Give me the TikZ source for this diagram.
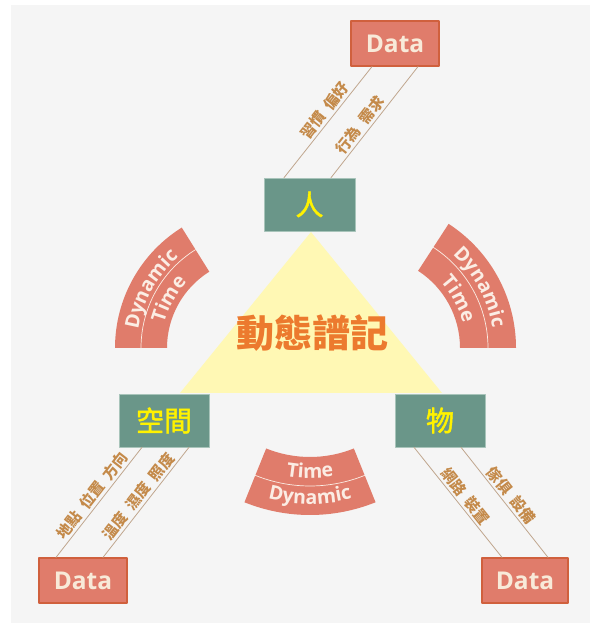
\documentclass[tikz,border=0pt]{standalone}
\usepackage{fontspec}
\setmainfont{Open Sans}
\newfontfamily\cjk{Noto Sans CJK TC}
\newfontfamily\cjkmid{Noto Sans CJK TC}[FakeBold=1.6]
\usepackage{tikz}
\usetikzlibrary{decorations.text}

\definecolor{bggray}{HTML}{F5F5F5}
\definecolor{salmon}{HTML}{E07C6B}
\definecolor{salmonedge}{HTML}{D0603D}
\definecolor{corefill}{HTML}{6A9689}
\definecolor{coreedge}{HTML}{A8C4BA}
\definecolor{coretext}{HTML}{FFF200}
\definecolor{trifill}{HTML}{FFF8B4}
\definecolor{titleorange}{HTML}{EC7A2E}
\definecolor{tagtan}{HTML}{C48A4A}
\definecolor{wiretan}{HTML}{C0A68E}
\definecolor{arctext}{HTML}{FBEDE4}
\definecolor{datatext}{HTML}{F8EAD9}

\begin{document}
\begin{tikzpicture}[x=1pt, y=1pt, line cap=round, line join=round,
    databox/.style={draw=salmonedge, line width=1.2pt, fill=salmon, minimum width=88pt, minimum height=45pt, inner sep=0pt, text=datatext, font=\fontsize{24.5}{24.5}\selectfont\bfseries},
    corebox/.style={draw=coreedge, line width=0.6pt, fill=corefill, minimum width=90pt, minimum height=53pt, inner sep=0pt, text=coretext, font=\cjkmid\fontsize{28}{28}\selectfont},
    wire/.style={draw=wiretan, line width=0.8pt},
    tag/.style={sloped, above, inner sep=2pt, text=tagtan, font=\cjk\fontsize{15}{15}\selectfont\bfseries},
    split/.style={draw=arctext, line width=0.7pt},
    curved/.style={decorate, decoration={text along path, text={|\fontsize{19.5}{19.5}\selectfont\bfseries|#1}, text align=center, text color=arctext}}]
        \useasboundingbox (0,0) rectangle (592,623);
        \fill[bggray] (11,0) rectangle (590,618);

        % centre triangle
        \fill[trifill] (311,391) -- (180,230) -- (442,230) -- cycle;
        \node[text=titleorange, font=\cjk\fontsize{38}{38}\selectfont\bfseries] (title) at (312,290) {動態譜記};

        % three core boxes
        \node[corebox, minimum width=91pt] (ren) at (309.5,418.5) {人};
        \node[corebox] (kongjian) at (164,202.5) {空間};
        \node[corebox] (wu) at (440,202.5) {物};

        % data boxes
        \node[databox] (dataT) at (395,579.5) {Data};
        \node[databox] (dataL) at (83,42.5) {Data};
        \node[databox, minimum width=86pt] (dataR) at (525,42.5) {Data};

        % wires with their tags
        \draw[wire] ([xshift=-23pt]dataT.south) -- ([xshift=-25.5pt]ren.north) node[tag, pos=0.45] {習慣\enspace 偏好};
        \draw[wire] ([xshift=23pt]dataT.south) -- ([xshift=21.5pt]ren.north) node[tag, pos=0.58] {行為\enspace 需求};
        \draw[wire] ([xshift=-22pt]kongjian.south) -- ([xshift=-27pt]dataL.north) node[tag, pos=0.49] {地點\enspace 位置\enspace 方向};
        \draw[wire] ([xshift=25pt]kongjian.south) -- ([xshift=20pt]dataL.north) node[tag, pos=0.5] {溫度\enspace 濕度\enspace 照度};
        \draw[wire] ([xshift=-26pt]wu.south) -- ([xshift=-23pt]dataR.north) node[tag, pos=0.5] {網路\enspace 裝置};
        \draw[wire] ([xshift=21pt]wu.south) -- ([xshift=23pt]dataR.north) node[tag, pos=0.49] {傢俱\enspace 設備};

        % left band
        \coordinate (lc) at (257,275);
        \fill[salmon] ([shift={(180:142)}]lc) arc[start angle=180, end angle=122, radius=142] -- ([shift={(122:90)}]lc) arc[start angle=122, end angle=180, radius=90] -- cycle;
        \draw[split] ([shift={(180:116)}]lc) arc[start angle=180, end angle=122, radius=116];
        \path[curved=Dynamic] ([shift={(180:120)}]lc) arc[start angle=180, end angle=122, radius=120];
        \path[curved=Time] ([shift={(180:96)}]lc) arc[start angle=180, end angle=122, radius=96];

        % right band
        \coordinate (rc) at (368,275);
        \fill[salmon] ([shift={(57:148)}]rc) arc[start angle=57, end angle=0, radius=148] -- ([shift={(0:92)}]rc) arc[start angle=0, end angle=57, radius=92] -- cycle;
        \draw[split] ([shift={(57:120)}]rc) arc[start angle=57, end angle=0, radius=120];
        \path[curved=Dynamic] ([shift={(57:126)}]rc) arc[start angle=57, end angle=0, radius=126];
        \path[curved=Time] ([shift={(57:98)}]rc) arc[start angle=57, end angle=0, radius=98];

        % bottom band
        \coordinate (bc) at (310,283);
        \fill[salmon] ([shift={(248:175)}]bc) arc[start angle=248, end angle=292, radius=175] -- ([shift={(292:117)}]bc) arc[start angle=292, end angle=248, radius=117] -- cycle;
        \draw[split] ([shift={(248:146)}]bc) arc[start angle=248, end angle=292, radius=146];
        \path[curved=Time] ([shift={(248:138)}]bc) arc[start angle=248, end angle=292, radius=138];
        \path[curved=Dynamic] ([shift={(248:164)}]bc) arc[start angle=248, end angle=292, radius=164];
    \end{tikzpicture}
\end{document}
